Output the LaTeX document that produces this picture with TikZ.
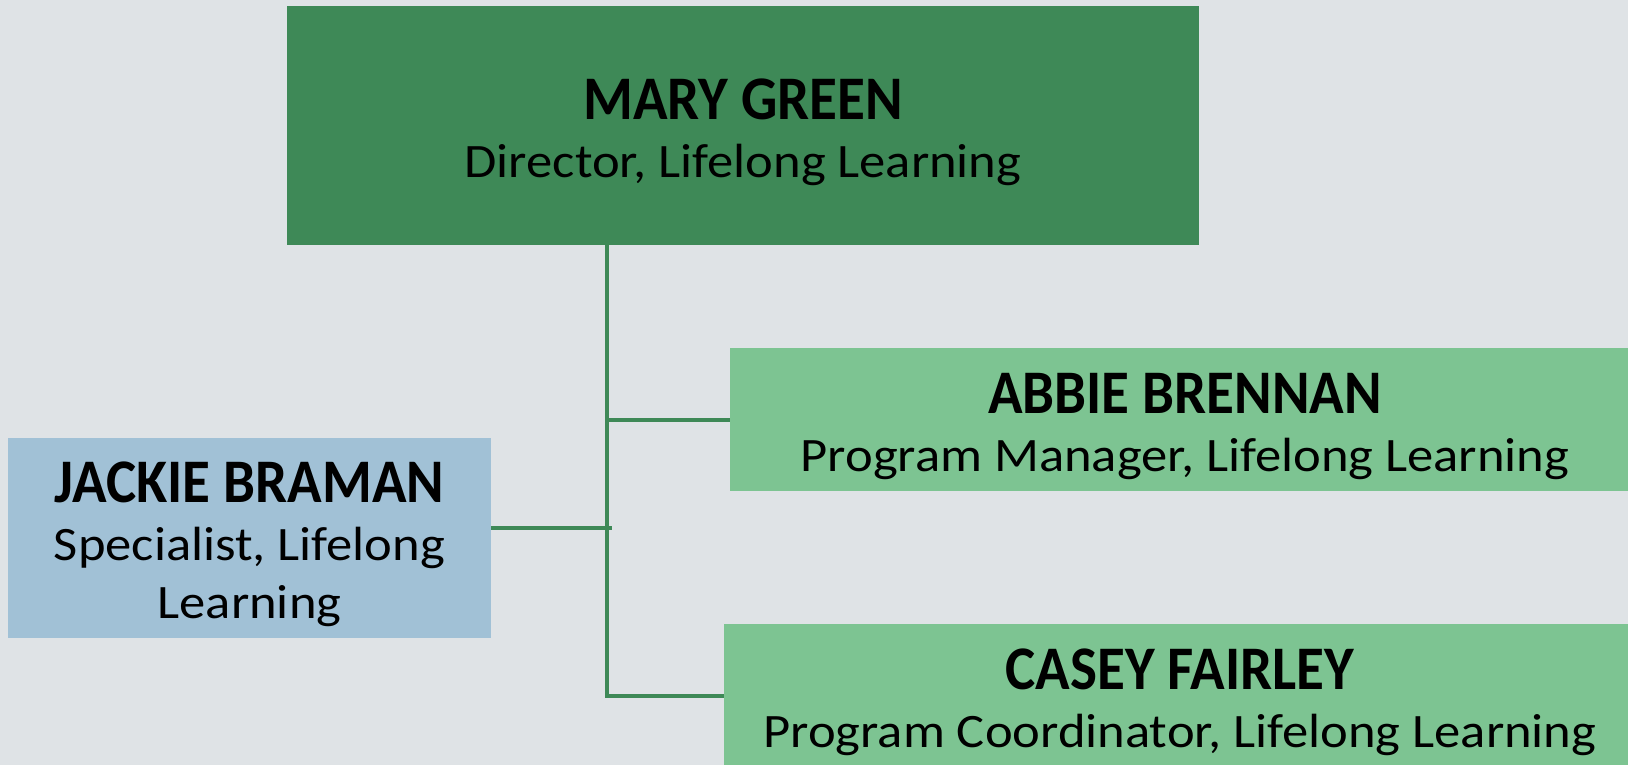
\documentclass[tikz,border=0pt]{standalone}
\usepackage{fontspec}
\setmainfont{Carlito}[FakeStretch=1.095]
\newfontfamily\namefont{Carlito}[FakeStretch=0.92]
\definecolor{pagebg}{RGB}{223,227,230}
\definecolor{directorgreen}{RGB}{62,137,87}
\definecolor{staffgreen}{RGB}{125,196,146}
\definecolor{specialistblue}{RGB}{161,193,214}
\newcommand{\personname}[1]{\rule{0pt}{27pt}{\namefont\bfseries\fontsize{31}{36}\selectfont #1}}

\begin{document}
\begin{tikzpicture}[x=0.5pt, y=-0.5pt]
            \tikzstyle{person} = [inner sep=0pt, align=center, text=black,
                font=\fontsize{24}{29}\selectfont]
            \tikzstyle{link} = [line width=2pt, draw=directorgreen]
            \fill[pagebg] (0,0) rectangle (1628,765);
            \useasboundingbox (0,0) rectangle (1628,765);
            \node[person, fill=directorgreen, minimum width=456pt, minimum height=119.5pt]
                (mary) at (743,125.5) {\personname{MARY GREEN}\\Director, Lifelong Learning};
            \node[person, fill=staffgreen, minimum width=455pt, minimum height=71.5pt]
                (abbie) at (1185,419.5) {\personname{ABBIE BRENNAN}\\Program Manager, Lifelong Learning};
            \node[person, fill=staffgreen, minimum width=456pt, minimum height=71.5pt]
                (casey) at (1180,695.5) {\personname{CASEY FAIRLEY}\\Program Coordinator, Lifelong Learning};
            \node[person, fill=specialistblue, minimum width=241.5pt, minimum height=100pt]
                (jackie) at (249.5,538) {\personname{JACKIE BRAMAN}\\Specialist, Lifelong\\Learning};
            \coordinate (trunk) at (607,695.5);
            \draw[link] (trunk |- mary.south) -- (trunk) -- (casey.west);
            \draw[link] (trunk |- abbie.west) -- (abbie.west);
            \draw[link] ([yshift=5pt]jackie.east) -- ++(121,0);
        \end{tikzpicture}
\end{document}
